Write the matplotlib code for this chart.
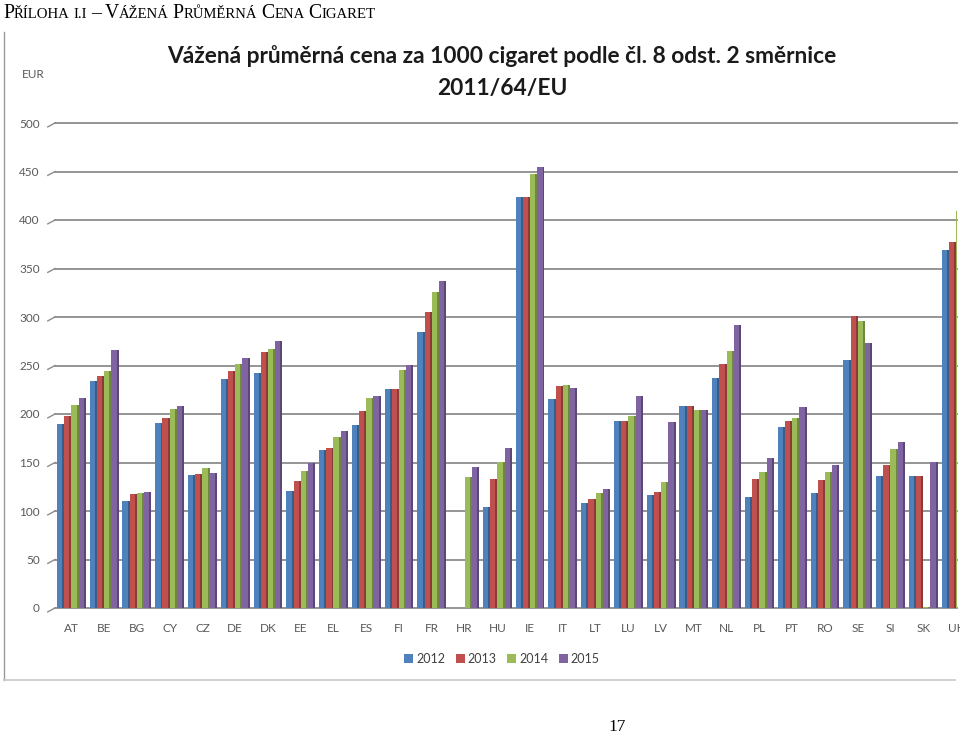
import numpy as np
import matplotlib.pyplot as plt
from matplotlib.lines import Line2D
from matplotlib.patches import Patch
from matplotlib.colors import to_rgb

nan = np.nan

# data (EUR per 1000 cigarettes)
countries = ['AT', 'BE', 'BG', 'CY', 'CZ', 'DE', 'DK', 'EE', 'EL', 'ES', 'FI', 'FR', 'HR', 'HU',
             'IE', 'IT', 'LT', 'LU', 'LV', 'MT', 'NL', 'PL', 'PT', 'RO', 'SE', 'SI', 'SK', 'UK']
years = ['2012', '2013', '2014', '2015']

p2012 = [190, 234, 110, 191, 137, 236, 242, 121, 163, 189, 226, 285, nan, 104,
         424, 215, 108, 193, 117, 208, 237, 114, 187, 119, 256, 136, 136, 369]
p2013 = [198, 239, 118, 196, 138, 244, 264, 131, 165, 203, 226, 305, nan, 133,
         424, 229, 112, 193, 120, 208, 252, 133, 193, 132, 301, 147, 136, 377]
p2014 = [209, 244, 119, 205, 144, 252, 267, 141, 176, 216, 245, 326, 135, 151,
         447, 230, 119, 198, 130, 204, 265, 140, 196, 140, 296, 164, 1, 409]
p2015 = [217, 266, 120, 208, 139, 258, 275, 150, 182, 219, 251, 337, 145, 165,
         455, 227, 123, 219, 192, 204, 292, 155, 207, 147, 273, 171, 151, 420]

series = [p2012, p2013, p2014, p2015]
colors = ['#4F81BD', '#C0504D', '#9BBB59', '#8064A2']
grid_col = '#8c8c8c'
txt_col = '#595959'
sans = ['Lato', 'DejaVu Sans']
serif = ['Liberation Serif', 'DejaVu Serif']

W, H = 960, 735
fig = plt.figure(figsize=(W / 100, H / 100), dpi=100)

# plot area in pixels: x 55..957, y 123..608
ax = fig.add_axes([55 / W, (H - 608) / H, 902 / W, 485 / H])
x = np.arange(len(countries))
w = 0.22
for i, (vals, col) in enumerate(zip(series, colors)):
    vals = np.array(vals, dtype=float)
    off = (i - 1.5) * w
    ax.bar(x + off, vals, w, color=col, linewidth=0, zorder=2)
    # darker right face to mimic the 3D look
    dark = tuple(c * 0.72 for c in to_rgb(col))
    ax.bar(x + off + w / 2 - 0.03, vals, 0.06, color=dark, linewidth=0, zorder=3)

ax.set_xlim(-0.5, 27.03)
ax.set_ylim(0, 500)
ticks = list(range(0, 501, 50))
ax.set_yticks(ticks)
ax.set_xticks(x, countries)
ax.yaxis.grid(True, color=grid_col, linewidth=1.3)
ax.set_axisbelow(True)
for gl in ax.get_ygridlines():
    gl.set_clip_on(False)
for v in ticks:
    ax.plot([-0.5 - 0.22, -0.5], [v - 4, v], color=grid_col, lw=1.0, clip_on=False, zorder=1)
for s in ax.spines.values():
    s.set_visible(False)
ax.tick_params(axis='y', length=0, pad=11, labelsize=8.5, labelcolor=txt_col)
ax.tick_params(axis='x', length=0, pad=11, labelsize=8.5, labelcolor=txt_col)
for lab in ax.get_xticklabels() + ax.get_yticklabels():
    lab.set_family(sans)

fig.text(22 / W, 1 - 75 / H, 'EUR', ha='left', va='center', fontsize=8.5, color=txt_col, family=sans)

fig.text(502 / W, 1 - 63 / H, 'Vážená průměrná cena za 1000 cigaret podle čl. 8 odst. 2 směrnice',
         ha='center', va='baseline', fontsize=16.4, weight='bold', color='#1a1a1a', family=sans)
fig.text(502 / W, 1 - 95 / H, '2011/64/EU',
         ha='center', va='baseline', fontsize=16.4, weight='bold', color='#1a1a1a', family=sans)

handles = [Patch(facecolor=c, edgecolor='none') for c in colors]
ax.legend(handles, years, loc='center', bbox_to_anchor=(502 / W, 1 - 659 / H),
          bbox_transform=fig.transFigure, ncol=4, frameon=False,
          handlelength=0.7, handleheight=0.7, handletextpad=0.25, columnspacing=0.85,
          labelcolor='#404040', prop={'family': sans, 'size': 9})

# chart frame (left and bottom edges survive in the scan)
fig.add_artist(Line2D([4 / W, 4 / W], [1 - 32 / H, 1 - 680 / H], transform=fig.transFigure,
                      color='#9a9a9a', lw=1))
fig.add_artist(Line2D([4 / W, 955 / W], [1 - 680 / H, 1 - 680 / H], transform=fig.transFigure,
                      color='#c8c8c8', lw=1.2))

# page heading in small caps, built from pieces
big, small = 14.2, 10.6
pieces = [('P', big, 0), ('ŘÍLOHA', small, 3.8), ('I.I', small, 3.8), ('–', big, 4.2),
          ('V', big, 0), ('ÁŽENÁ', small, 3.8), ('P', big, 0), ('RŮMĚRNÁ', small, 3.8),
          ('C', big, 0), ('ENA', small, 3.8), ('C', big, 0), ('IGARET', small, 0)]
renderer = fig.canvas.get_renderer()
xp = 3.0
for text, size, gap in pieces:
    t = fig.text(xp / W, 1 - 18 / H, text, ha='left', va='baseline', fontsize=size,
                 family=serif, color='black')
    xp += t.get_window_extent(renderer).width + gap

fig.text(617 / W, 1 - 727 / H, '17', ha='center', va='center', fontsize=12.5, family=serif)

fig.savefig('out.png', dpi=100)
